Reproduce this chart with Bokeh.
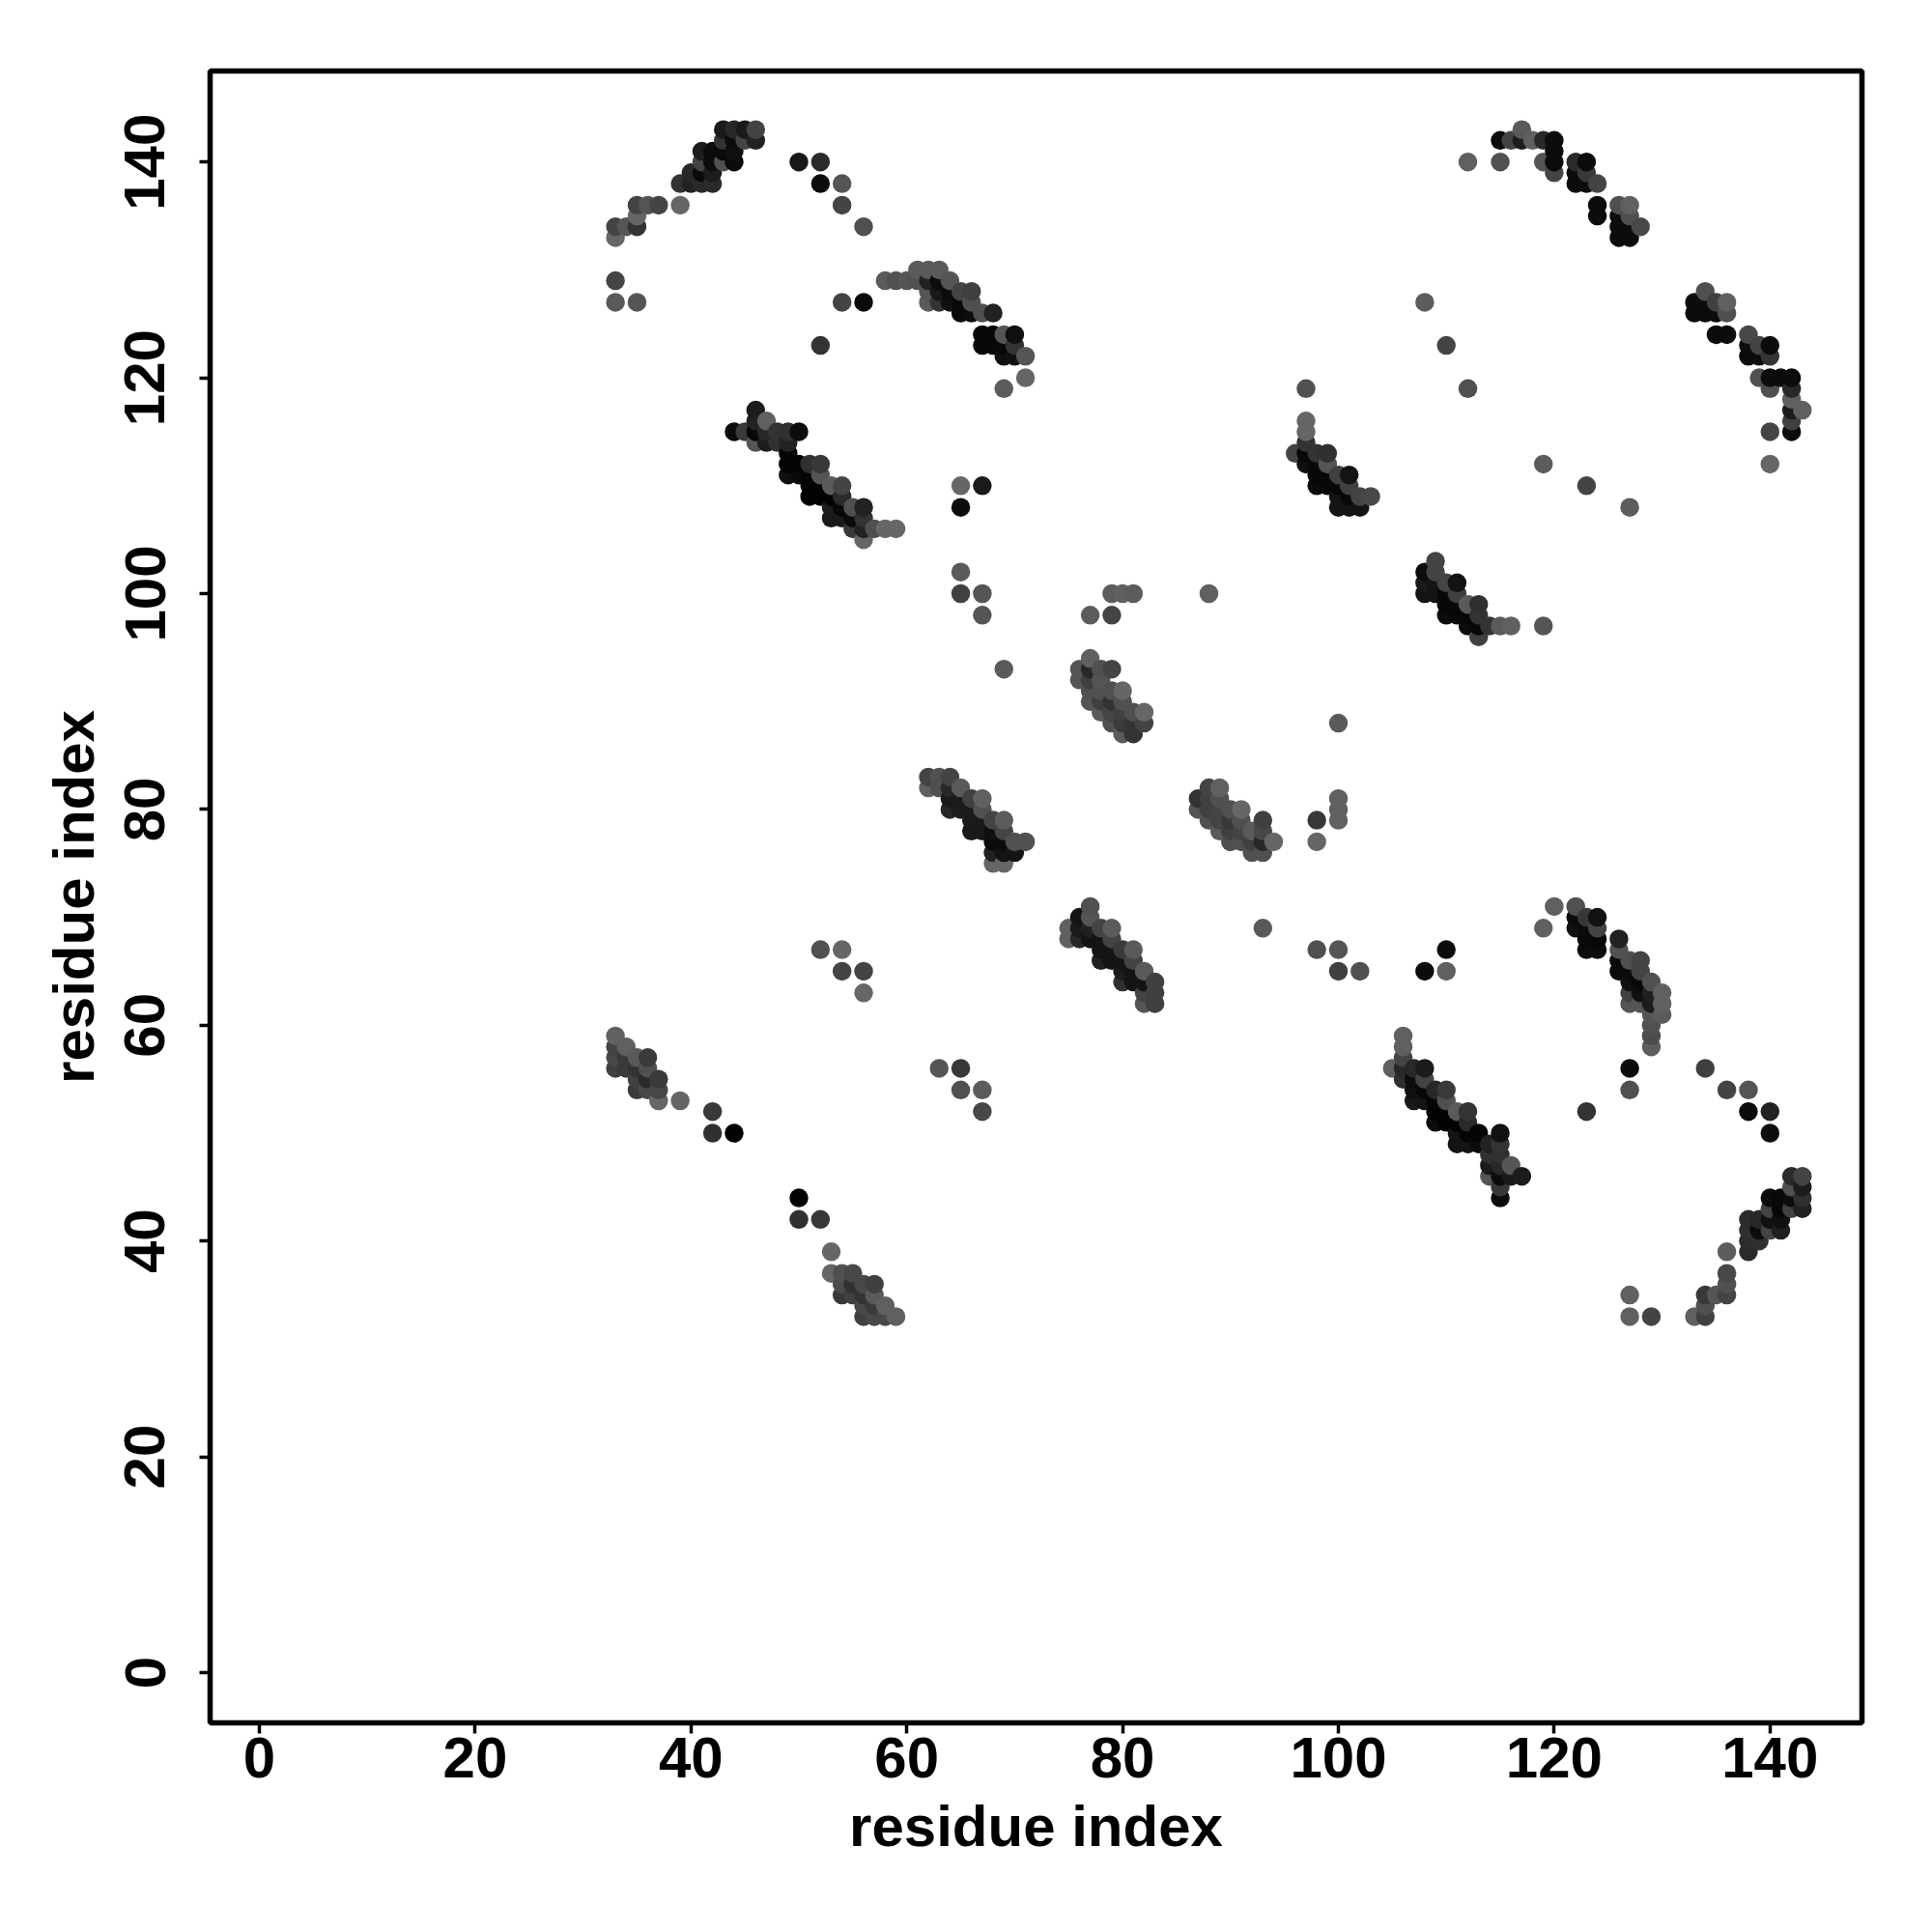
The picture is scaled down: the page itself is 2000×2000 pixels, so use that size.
from bokeh.plotting import figure
from bokeh.embed import file_html
from bokeh.resources import INLINE
from bokeh.models import ColumnDataSource, FixedTicker, Range1d

# Each entry: (residue x, residue y, grey level 0-255)
arc_top_left = [
(33,133,0x66),(33,134,0x44),(34,134,0x55),(35,134,0x33),(35,135,0x66),(35,136,0x44),(36,136,0x55),(37,136,0x44),(39,136,0x66),
(33,129,0x44),(33,127,0x5a),(35,127,0x55),
(39,138,0x33),(40,138,0x22),(41,138,0x2a),(42,138,0x2a),(40,139,0x28),(41,139,0x0a),(42,139,0x1c),
(41,140,0x44),(42,140,0x0c),(43,140,0x50),(44,140,0x0a),(41,141,0x1c),(42,141,0x0c),(43,141,0x0a),(44,141,0x10),
(43,142,0x33),(44,142,0x0c),(45,142,0x44),(46,142,0x22),(43,143,0x1a),(44,143,0x28),(45,143,0x1a),(46,143,0x44),
(50,140,0x18),(52,140,0x2a),(52,138,0x0c),(54,138,0x55),(54,136,0x44),(56,134,0x50),(54,127,0x44),(56,127,0x0a),
]
arc_mid_left = [
(52,123,0x33),(58,129,0x5a),(59,129,0x50),(60,129,0x55),(61,129,0x50),(61,130,0x5a),(62,130,0x5a),(63,130,0x5a),
(62,129,0x22),(63,129,0x0c),(64,129,0x55),(62,128,0x55),(63,128,0x18),(64,128,0x0c),(65,128,0x44),(66,128,0x40),
(62,127,0x5a),(63,127,0x33),(64,127,0x11),(65,127,0x0a),(66,127,0x50),(65,126,0x08),(66,126,0x0c),(67,126,0x50),(68,126,0x22),
(67,124,0x08),(68,124,0x08),(69,124,0x55),(70,124,0x10),(67,123,0x08),(68,123,0x08),(69,123,0x08),(70,123,0x33),
(69,122,0x10),(70,122,0x10),(71,122,0x55),(71,120,0x66),(69,119,0x5c),
]
strand_left = [
(44,115,0x0c),(45,115,0x3a),(46,115,0x08),(47,115,0x28),(48,115,0x33),(49,115,0x30),(50,115,0x0c),
(46,117,0x1c),(46,116,0x22),(47,116,0x60),(46,114,0x55),(47,114,0x1c),(48,114,0x30),(49,114,0x22),
(49,113,0x05),(49,112,0x05),(50,112,0x05),(51,112,0x30),(52,112,0x38),(49,111,0x10),(50,111,0x0a),(51,111,0x05),(52,111,0x55),
(51,110,0x02),(52,110,0x02),(53,110,0x5a),(54,110,0x44),(51,109,0x02),(52,109,0x02),(53,109,0x02),(54,109,0x2a),
(53,108,0x1c),(54,108,0x08),(55,108,0x50),(56,108,0x22),(53,107,0x1a),(54,107,0x1a),(55,107,0x0a),(56,107,0x33),
(55,106,0x38),(56,106,0x22),(57,106,0x50),(58,106,0x66),(59,106,0x66),(56,105,0x66),
(65,110,0x66),(67,110,0x1a),(65,108,0x0c),
]
arc_top_right = [
(112,140,0x60),(115,140,0x50),(115,142,0x0c),(116,142,0x44),(117,142,0x1c),(117,143,0x5a),(118,142,0x60),(119,142,0x28),(120,142,0x0c),
(119,140,0x55),(120,141,0x0c),(120,140,0x0c),(120,139,0x44),
(122,140,0x2a),(123,140,0x0c),(122,139,0x0c),(123,139,0x38),(122,138,0x0c),(123,138,0x0c),(124,138,0x44),
(124,136,0x0c),(124,135,0x0c),(126,136,0x50),(127,136,0x60),(126,135,0x0c),(127,135,0x50),
(126,134,0x0c),(127,134,0x0c),(128,134,0x48),(126,133,0x0c),(127,133,0x0c),
]
arc_right = [
(134,128,0x50),(133,127,0x0c),(134,127,0x0c),(135,127,0x40),(136,127,0x60),(133,126,0x0c),(134,126,0x0c),(135,126,0x0c),(136,126,0x50),
(135,124,0x0c),(136,124,0x0c),(138,124,0x48),(138,123,0x0c),(139,123,0x44),(140,123,0x0c),(138,122,0x0c),(139,122,0x0c),(140,122,0x33),
(139,120,0x50),(140,120,0x0c),(141,120,0x0c),(142,120,0x0c),(140,119,0x50),(142,119,0x28),(142,118,0x60),(142,117,0x1c),(143,117,0x60),
(142,116,0x40),(142,115,0x0c),(140,115,0x44),(140,112,0x66),
]
strand_mid_right = [
(97,116,0x66),(97,115,0x66),(97,114,0x33),(96,113,0x44),(97,113,0x08),(98,113,0x33),(99,113,0x30),(97,112,0x10),(98,112,0x08),(99,112,0x55),
(98,111,0x08),(99,111,0x08),(100,111,0x40),(101,111,0x14),(98,110,0x0c),(99,110,0x08),(100,110,0x08),(101,110,0x40),
(100,109,0x14),(101,109,0x08),(102,109,0x44),(103,109,0x48),(100,108,0x14),(101,108,0x14),(102,108,0x14),
(119,112,0x5c),(123,110,0x44),(127,108,0x5c),(97,119,0x50),(108,127,0x5c),(110,123,0x44),(112,119,0x50),
(109,103,0x44),(109,102,0x44),(108,102,0x0c),(108,101,0x1a),(109,101,0x14),(110,101,0x44),(111,101,0x12),
(108,100,0x14),(109,100,0x14),(110,100,0x08),(111,100,0x40),(110,99,0x08),(111,99,0x08),(112,99,0x5a),(113,99,0x30),
(110,98,0x0c),(111,98,0x08),(112,98,0x08),(113,98,0x33),(112,97,0x0c),(113,97,0x08),(114,97,0x33),(115,97,0x5a),(116,97,0x60),(119,97,0x55),(113,96,0x40),
]
centre_upper = [
(69,93,0x5a),(77,94,0x60),(76,93,0x55),(77,93,0x28),(78,93,0x50),(79,93,0x44),(76,92,0x55),(77,92,0x40),(78,92,0x55),
(77,91,0x50),(78,91,0x50),(79,91,0x50),(80,91,0x66),(77,90,0x55),(78,90,0x40),(79,90,0x33),(80,90,0x50),
(78,89,0x5a),(79,89,0x44),(80,89,0x40),(81,89,0x50),(82,89,0x66),(79,88,0x50),(80,88,0x3a),(81,88,0x33),(82,88,0x44),(80,87,0x5a),(81,87,0x33),
(65,102,0x5a),(65,100,0x40),(67,100,0x55),(67,98,0x55),(77,98,0x5c),(79,98,0x44),(79,100,0x5c),(80,100,0x60),(81,100,0x5c),(88,100,0x60),(100,88,0x5a),
]
centre_left = [
(62,83,0x44),(63,83,0x50),(64,83,0x44),(62,82,0x60),(63,82,0x50),(64,82,0x28),(65,82,0x5a),(64,81,0x1a),(65,81,0x1a),(66,81,0x40),(67,81,0x60),
(64,80,0x28),(65,80,0x1c),(66,80,0x1a),(67,80,0x50),(66,79,0x1a),(67,79,0x1a),(68,79,0x44),(69,79,0x5c),(66,78,0x1a),(67,78,0x1a),(68,78,0x10),(69,78,0x44),
(68,77,0x0c),(69,77,0x0c),(70,77,0x50),(71,77,0x50),(68,76,0x22),(69,76,0x14),(70,76,0x14),(68,75,0x66),(69,75,0x66),
]
centre_right = [
(88,82,0x44),(89,82,0x60),(87,81,0x33),(88,81,0x40),(89,81,0x50),(87,80,0x55),(88,80,0x40),(89,80,0x44),(90,80,0x50),(91,80,0x66),
(88,79,0x50),(89,79,0x44),(90,79,0x38),(91,79,0x50),(93,79,0x40),(89,78,0x5a),(90,78,0x40),(91,78,0x44),(92,78,0x5a),(93,78,0x48),
(90,77,0x50),(91,77,0x50),(92,77,0x40),(93,77,0x28),(94,77,0x66),(92,76,0x50),(93,76,0x50),
(100,81,0x60),(100,80,0x60),(100,79,0x60),(98,79,0x38),(98,77,0x66),
]
centre_lower = [
(77,71,0x50),(76,70,0x14),(77,70,0x55),(75,69,0x60),(76,69,0x1a),(77,69,0x20),(78,69,0x44),(79,69,0x5c),(75,68,0x60),(76,68,0x28),(77,68,0x14),(78,68,0x14),(79,68,0x44),
(78,67,0x14),(79,67,0x14),(80,67,0x3a),(81,67,0x5a),(78,66,0x20),(79,66,0x14),(80,66,0x14),(81,66,0x44),(80,65,0x1c),(81,65,0x14),(82,65,0x5a),
(80,64,0x30),(81,64,0x14),(82,64,0x14),(83,64,0x40),(82,63,0x44),(83,63,0x40),(82,62,0x55),(83,62,0x40),
(93,69,0x5a),(98,67,0x50),(100,67,0x55),(100,65,0x40),(102,65,0x50),(108,65,0x0c),(110,67,0x0c),(110,65,0x60),
]
arc_lower_right = [
(119,69,0x60),(120,71,0x60),(122,71,0x50),(122,70,0x0c),(123,70,0x38),(124,70,0x12),(122,69,0x10),(123,69,0x0c),(124,69,0x44),(123,68,0x08),(124,68,0x08),(123,67,0x0c),(124,67,0x0c),
(126,68,0x22),(126,67,0x50),(127,66,0x50),(128,66,0x44),(126,66,0x08),(126,65,0x0c),(127,65,0x0c),(128,65,0x44),(129,64,0x50),(127,64,0x10),(128,64,0x08),
(127,63,0x40),(128,63,0x10),(129,63,0x20),(130,63,0x60),(127,62,0x55),(128,62,0x55),(129,62,0x1c),(130,62,0x60),(129,61,0x55),(130,61,0x5c),(129,60,0x50),(129,59,0x4c),(129,58,0x5c),
(127,56,0x0c),(127,54,0x50),(123,52,0x33),(134,56,0x40),(136,54,0x44),(138,54,0x55),(138,52,0x0c),(140,52,0x22),(140,50,0x0c),
]
strand_lower_right = [
(106,59,0x60),(106,58,0x60),(106,57,0x44),(105,56,0x60),(106,56,0x28),(107,56,0x28),(108,56,0x1c),(106,55,0x30),(107,55,0x0c),(108,55,0x44),
(107,54,0x10),(108,54,0x08),(109,54,0x28),(110,54,0x3a),(107,53,0x18),(108,53,0x14),(109,53,0x05),(110,53,0x50),
(109,52,0x02),(110,52,0x02),(111,52,0x5a),(112,52,0x33),(109,51,0x0c),(110,51,0x02),(111,51,0x02),(112,51,0x2a),
(111,50,0x14),(112,50,0x05),(113,50,0x05),(115,50,0x12),(111,49,0x14),(112,49,0x14),(113,49,0x0c),(114,49,0x22),(115,49,0x33),
(114,48,0x30),(115,48,0x30),(114,47,0x1a),(115,47,0x28),(116,47,0x55),(114,46,0x55),(115,46,0x0c),(116,46,0x1a),(117,46,0x1c),(115,45,0x38),(115,44,0x0c),
]
arc_bottom_right = [
(129,33,0x44),(133,33,0x60),(134,33,0x40),(134,34,0x50),(134,35,0x38),(135,35,0x55),(136,35,0x44),(136,36,0x50),(136,37,0x48),(136,39,0x5c),
(138,39,0x2a),(138,40,0x2c),(139,40,0x30),(138,41,0x30),(139,41,0x0c),(140,41,0x44),(141,41,0x20),(138,42,0x2c),(139,42,0x28),(140,42,0x10),(141,42,0x10),
(140,43,0x44),(141,43,0x08),(142,43,0x40),(143,43,0x22),(140,44,0x0c),(141,44,0x08),(142,44,0x0c),(143,44,0x30),(142,45,0x50),(143,45,0x1c),(142,46,0x2a),(143,46,0x44),
(127,35,0x60),(127,33,0x60),
]
lower_left = [
(33,59,0x60),(34,58,0x60),(33,58,0x44),(33,57,0x48),(34,57,0x3a),(35,57,0x5a),(36,57,0x3a),(33,56,0x40),(34,56,0x3a),(35,56,0x33),(36,56,0x50),
(35,55,0x40),(36,55,0x2a),(37,55,0x3a),(35,54,0x3a),(36,54,0x48),(37,54,0x48),(37,53,0x66),(39,53,0x66),
(42,52,0x38),(42,50,0x30),(44,50,0x02),(50,44,0x02),(50,42,0x30),(52,42,0x38),(53,39,0x66),
(53,37,0x66),(54,37,0x50),(55,37,0x48),(54,36,0x4c),(55,36,0x30),(56,36,0x48),(57,36,0x40),(54,35,0x38),(55,35,0x40),(56,35,0x33),(57,35,0x5a),
(56,34,0x48),(57,34,0x3a),(58,34,0x60),(56,33,0x40),(57,33,0x48),(58,33,0x48),(59,33,0x60),
(52,67,0x50),(54,67,0x66),(54,65,0x44),(56,65,0x44),(56,63,0x66),(63,56,0x55),(65,56,0x38),(65,54,0x50),(67,54,0x5c),(67,52,0x48),
]
tick_values = [0, 20, 40, 60, 80, 100, 120, 140]
axis_title = "residue index"

points = sorted(arc_top_left + arc_mid_left + strand_left + arc_top_right + arc_right + strand_mid_right
                + centre_upper + centre_left + centre_right + centre_lower + arc_lower_right
                + strand_lower_right + arc_bottom_right + lower_left, key=lambda t: (t[0], t[1]))

source = ColumnDataSource(dict(
    x=[t[0] for t in points],
    y=[t[1] for t in points],
    color=["#%02x%02x%02x" % (t[2], t[2], t[2]) for t in points],
))

# frame spans pixels 217..1927 (x) and 73..1783 (y) of the page
x0, x1 = (217 - 268) / 11.17, (1927 - 268) / 11.17
y0, y1 = (1731 - 1783) / 11.17, (1731 - 73) / 11.17

p = figure(width=1984, height=1984, output_backend="svg", toolbar_location=None,
           x_range=Range1d(x0, x1), y_range=Range1d(y0, y1),
           min_border_left=217, min_border_right=57, min_border_top=73, min_border_bottom=201)
p.grid.visible = False
p.background_fill_color = "white"
p.border_fill_color = "white"
p.outline_line_color = "black"
p.outline_line_width = 5.5

p.scatter("x", "y", source=source, size=19.5, color="color", line_color=None)

for ax in (p.xaxis[0], p.yaxis[0]):
    ax.ticker = FixedTicker(ticks=tick_values)
    ax.axis_label = axis_title
    ax.axis_line_color = None
    ax.major_tick_line_color = "black"
    ax.major_tick_line_width = 3.5
    ax.major_tick_in = 0
    ax.major_tick_out = 11
    ax.minor_tick_line_color = None
    ax.major_label_text_font = "Liberation Sans"
    ax.major_label_text_font_style = "bold"
    ax.major_label_text_font_size = "60px"
    ax.major_label_text_color = "black"
    ax.axis_label_text_font = "Liberation Sans"
    ax.axis_label_text_font_style = "bold"
    ax.axis_label_text_font_size = "60px"
    ax.axis_label_text_color = "black"
p.yaxis[0].major_label_orientation = "vertical"
p.xaxis[0].major_label_standoff = 4
p.yaxis[0].major_label_standoff = 36
p.xaxis[0].axis_label_standoff = 14
p.yaxis[0].axis_label_standoff = 17

open("out.html", "w").write(file_html(p, INLINE))
